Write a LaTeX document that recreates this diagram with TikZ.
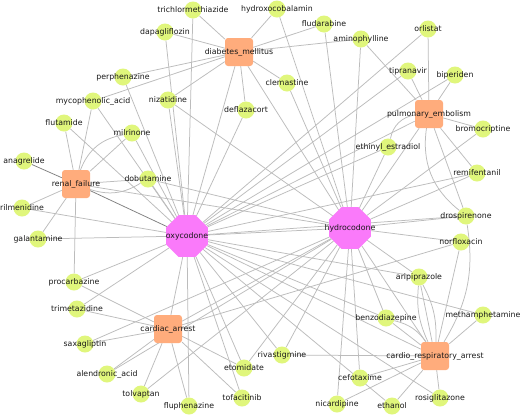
\documentclass[tikz,border=0pt]{standalone}
\usepackage{fontspec}
\setmainfont{DejaVu Sans}
\usetikzlibrary{shapes.geometric,backgrounds}

\definecolor{drugfill}{RGB}{224,246,124}
\definecolor{diseasefill}{RGB}{255,172,124}
\definecolor{hubfill}{RGB}{250,122,250}
\definecolor{edgegray}{RGB}{188,188,188}

\tikzset{
  drug/.style={circle, fill=drugfill, minimum size=17pt, inner sep=0pt},
  disease/.style={rectangle, rounded corners=3pt, fill=diseasefill, minimum size=28pt, inner sep=0pt},
  hub/.style={regular polygon, regular polygon sides=8, fill=hubfill, minimum size=45pt, inner sep=0pt},
  edge/.style={draw=edgegray, line width=0.75pt},
  darkedge/.style={draw=black!50, line width=0.75pt},
}

\begin{document}
\begin{tikzpicture}[x=1pt, y=-1pt, font=\fontsize{7.8}{9}\selectfont, text=black!90]
% canvas = 520 x 416 px, y grows downwards like the screenshot
\useasboundingbox (0,0) rectangle (520,416);
% hubs
\node[hub, label=center:oxycodone] (oxy) at (187,236) {};
\node[hub, label=center:hydrocodone] (hydro) at (350,228) {};
% diseases
\node[disease, label=center:diabetes\_mellitus] (diab) at (239,52) {};
\node[disease, label=center:pulmonary\_embolism] (pulm) at (429,114) {};
\node[disease, label=center:renal\_failure] (renal) at (76,184) {};
\node[disease, label=center:cardiac\_arrest] (carda) at (168,329) {};
\node[disease, label=center:cardio\_respiratory\_arrest] (cresp) at (435,356) {};
% drugs, top
\node[drug, label=center:trichlormethiazide] (trichlor) at (193,10) {};
\node[drug, label=center:hydroxocobalamin] (hydroxo) at (277,9) {};
\node[drug, label=center:dapagliflozin] (dapa) at (165,32) {};
\node[drug, label=center:fludarabine] (fluda) at (324,24) {};
\node[drug, label=center:aminophylline] (amino) at (361,39) {};
\node[drug, label=center:orlistat] (orli) at (428,29) {};
\node[drug, label=center:clemastine] (clem) at (287,83) {};
\node[drug, label=center:deflazacort] (defla) at (246,110) {};
\node[drug, label=center:nizatidine] (niza) at (168,100) {};
\node[drug, label=center:perphenazine] (perph) at (123,77) {};
\node[drug, label=center:mycophenolic\_acid] (myco) at (93,101) {};
\node[drug, label=center:flutamide] (fluta) at (64,123) {};
\node[drug, label=center:milrinone] (milri) at (132,133) {};
\node[drug, label=center:tipranavir] (tipra) at (408,71) {};
\node[drug, label=center:biperiden] (biper) at (455,75) {};
% drugs, right
\node[drug, label=center:bromocriptine] (bromo) at (483,129) {};
\node[drug, label=center:ethinyl\_estradiol] (ethin) at (388,147) {};
\node[drug, label=center:remifentanil] (remif) at (477,173) {};
\node[drug, label=center:drospirenone] (drosp) at (466,216) {};
\node[drug, label=center:norfloxacin] (norfl) at (461,242) {};
\node[drug, label=center:aripiprazole] (aripi) at (419,277) {};
% drugs, left
\node[drug, label=center:anagrelide] (anag) at (24,161) {};
\node[drug, label=center:dobutamine] (dobu) at (148,179) {};
\node[drug, label=center:rilmenidine] (rilme) at (22,208) {};
\node[drug, label=center:galantamine] (galan) at (38,239) {};
\node[drug, label=center:procarbazine] (procarb) at (74,282) {};
\node[drug, label=center:trimetazidine] (trimet) at (77,309) {};
% drugs, bottom
\node[drug, label=center:saxagliptin] (saxa) at (85,344) {};
\node[drug, label=center:alendronic\_acid] (alend) at (107,374) {};
\node[drug, label=center:tolvaptan] (tolv) at (141,394) {};
\node[drug, label=center:fluphenazine] (fluph) at (189,406) {};
\node[drug, label=center:etomidate] (etomi) at (244,368) {};
\node[drug, label=center:tofacitinib] (tofa) at (242,398) {};
\node[drug, label=center:rivastigmine] (rivas) at (282,355) {};
\node[drug, label=center:benzodiazepine] (benzo) at (386,318) {};
\node[drug, label=center:methamphetamine] (metham) at (483,315) {};
\node[drug, label=center:cefotaxime] (cefo) at (360,378) {};
\node[drug, label=center:nicardipine] (nicar) at (337,404) {};
\node[drug, label=center:ethanol] (ethan) at (392,406) {};
\node[drug, label=center:rosiglitazone] (rosig) at (440,398) {};
% edges under the nodes
\begin{scope}[on background layer]
\fill[white] (0,0) rectangle (520,416);
\foreach \d in {trichlor,hydroxo,dapa,fluda,amino,perph,myco,niza,clem,defla,oxy,hydro}
  \draw[edge] (diab) -- (\d);
\foreach \d in {orli,tipra,biper,amino,bromo,remif,drosp,oxy,hydro}
  \draw[edge] (pulm) -- (\d);
\foreach \d in {rilme,galan,dobu,fluta,myco,milri,procarb,hydro}
  \draw[edge] (renal) -- (\d);
\foreach \d in {procarb,trimet,saxa,alend,tolv,fluph,etomi,tofa,norfl,oxy,hydro}
  \draw[edge] (carda) -- (\d);
\foreach \d in {aripi,benzo,metham,cefo,nicar,ethan,rosig,norfl,rivas,oxy,hydro}
  \draw[edge] (cresp) -- (\d);
\foreach \d in {trichlor,dapa,orli,tipra,biper,perph,niza,defla,fluta,milri,myco,dobu,rilme,galan,procarb,trimet,fluph,tofa,etomi,rosig,ethan,metham,rivas,ethin,remif,drosp,aripi,benzo,hydro}
  \draw[edge] (oxy) -- (\d);
\foreach \d in {hydroxo,fluda,amino,clem,bromo,remif,drosp,ethin,norfl,aripi,benzo,cefo,nicar,saxa,alend,tolv,etomi,niza,dobu,rivas}
  \draw[edge] (hydro) -- (\d);
% doubled links bend
\draw[edge] (renal) to[bend left=30] (milri);
\draw[edge] (renal) to[bend right=25] (dobu);
\draw[edge] (pulm) to[bend right=35] (ethin);
\draw[edge] (pulm) to[bend right=30] (drosp);
\draw[edge] (cresp) to[bend right=20] (drosp);
\draw[edge] (cresp) to[bend right=15] (aripi);
\draw[edge] (cresp) to[bend left=15] (aripi);
\draw[edge] (cresp) to[bend right=20] (benzo);
\draw[darkedge] (renal) -- (oxy);
\draw[darkedge] (renal) -- (anag);
\end{scope}
\end{tikzpicture}
\end{document}
